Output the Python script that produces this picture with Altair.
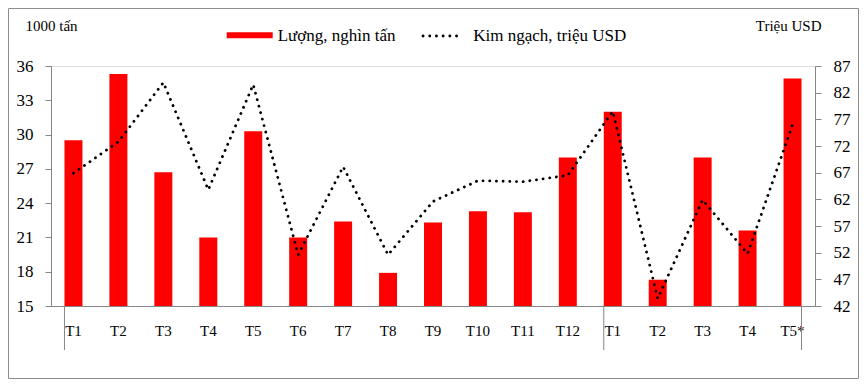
import altair as alt
import pandas as pd

months = ["T1", "T2", "T3", "T4", "T5", "T6", "T7", "T8", "T9", "T10", "T11", "T12",
          "T1", "T2", "T3", "T4", "T5*"]
groups = ["2012"] * 12 + ["2013"] * 5
volume = [29.5, 35.3, 26.7, 21.0, 30.3, 21.0, 22.4, 17.9, 22.3, 23.3, 23.2, 28.0,
          32.0, 17.3, 28.0, 21.6, 34.9]
value = [66.9, 72.8, 83.9, 63.8, 83.5, 51.6, 68.1, 51.6, 61.6, 65.5, 65.3, 66.5,
         78.5, 43.4, 61.9, 51.8, 76.0]

left_ticks = [15, 18, 21, 24, 27, 30, 33, 36]
right_ticks = [42, 47, 52, 57, 62, 67, 72, 77, 82, 87]

keys = [f"{m}|{g}" for m, g in zip(months, groups)]
df = pd.DataFrame({"key": keys, "volume": volume, "value": value})

FONT = "Liberation Serif"
AX = "#868686"
W, H = 764, 240

xaxis = alt.Axis(title=None, labelExpr="split(datum.value, '|')[0]",
                 ticks=False, labelPadding=17, labelAngle=0,
                 labelFont=FONT, labelFontSize=15, labelColor="black",
                 domainColor=AX)
xscale = alt.Scale(paddingInner=0.6, paddingOuter=0.3)

bars = alt.Chart(df).mark_bar(color="#FF0000").encode(
    x=alt.X("key:N", sort=keys, scale=xscale, axis=xaxis),
    y=alt.Y("volume:Q", scale=alt.Scale(domain=[15, 36], zero=False, nice=False),
            axis=alt.Axis(values=left_ticks, orient="left", grid=False,
                          title="1000 tấn", titleAngle=0, titleAlign="left",
                          titleBaseline="alphabetic", titleX=-26, titleY=-36,
                          titleFont=FONT, titleFontSize=15, titleFontWeight="normal",
                          titleColor="black",
                          labelFont=FONT, labelFontSize=17, labelColor="black",
                          tickSize=6, labelPadding=12, tickColor=AX, domainColor=AX)),
    y2=alt.datum(15),
)

line = alt.Chart(df).mark_line(color="black", strokeWidth=2.8,
                               strokeDash=[0.1, 6.6], strokeCap="round").encode(
    x=alt.X("key:N", sort=keys, scale=xscale, axis=xaxis),
    y=alt.Y("value:Q", scale=alt.Scale(domain=[42, 87], zero=False, nice=False),
            axis=alt.Axis(values=right_ticks, orient="right", grid=False,
                          title="Triệu USD", titleAngle=0, titleAlign="right",
                          titleBaseline="alphabetic", titleX=6, titleY=-36,
                          titleFont=FONT, titleFontSize=15, titleFontWeight="normal",
                          titleColor="black",
                          labelFont=FONT, labelFontSize=17, labelColor="black",
                          tickSize=6, labelPadding=12, tickColor=AX, domainColor=AX)),
)

start_df = pd.DataFrame({"key": [keys[0], keys[12]]})
end_df = pd.DataFrame({"key": [keys[-1]]})
div_start = alt.Chart(start_df).mark_rule(color=AX, strokeWidth=1).encode(
    x=alt.X("key:N", sort=keys, scale=xscale, axis=xaxis, bandPosition=0),
    y=alt.value(H), y2=alt.value(H + 44))
div_end = alt.Chart(end_df).mark_rule(color=AX, strokeWidth=1).encode(
    x=alt.X("key:N", sort=keys, scale=xscale, axis=xaxis, bandPosition=1),
    y=alt.value(H), y2=alt.value(H + 44))

one = pd.DataFrame({"a": [0]})
leg_rect = alt.Chart(one).mark_rect(color="#FF0000").encode(
    x=alt.value(175.7), x2=alt.value(221.7), y=alt.value(-33.7), y2=alt.value(-27.7))
leg_text1 = alt.Chart(one).mark_text(align="left", baseline="alphabetic", font=FONT,
                                     fontSize=17, color="black").encode(
    x=alt.value(226.7), y=alt.value(-25), text=alt.value("Lượng, nghìn tấn"))
leg_line = alt.Chart(one).mark_rule(color="black", strokeWidth=2.8,
                                    strokeDash=[0.1, 6.6], strokeCap="round").encode(
    x=alt.value(372), x2=alt.value(412), y=alt.value(-30))
leg_text2 = alt.Chart(one).mark_text(align="left", baseline="alphabetic", font=FONT,
                                     fontSize=17, color="black").encode(
    x=alt.value(422.3), y=alt.value(-25), text=alt.value("Kim ngạch, triệu USD"))

border = alt.Chart(one).mark_rect(fill="white", fillOpacity=0, stroke="#8c8c8c",
                                  strokeWidth=1, clip=False).encode(
    x=alt.value(-42.5), x2=alt.value(807.5), y=alt.value(-57.5), y2=alt.value(312.5))

chart = alt.layer(border, bars, line, div_start, div_end,
                  leg_rect, leg_text1, leg_line, leg_text2).resolve_scale(
    y="independent"
).properties(
    width=W, height=H,
    autosize=alt.AutoSizeParams(type="none"),
    padding={"left": 43, "top": 58, "right": 44, "bottom": 73},
).configure_view(stroke=None).configure(background="white", font=FONT)

chart.save("out.html", embed_options={"renderer": "svg", "actions": False})
